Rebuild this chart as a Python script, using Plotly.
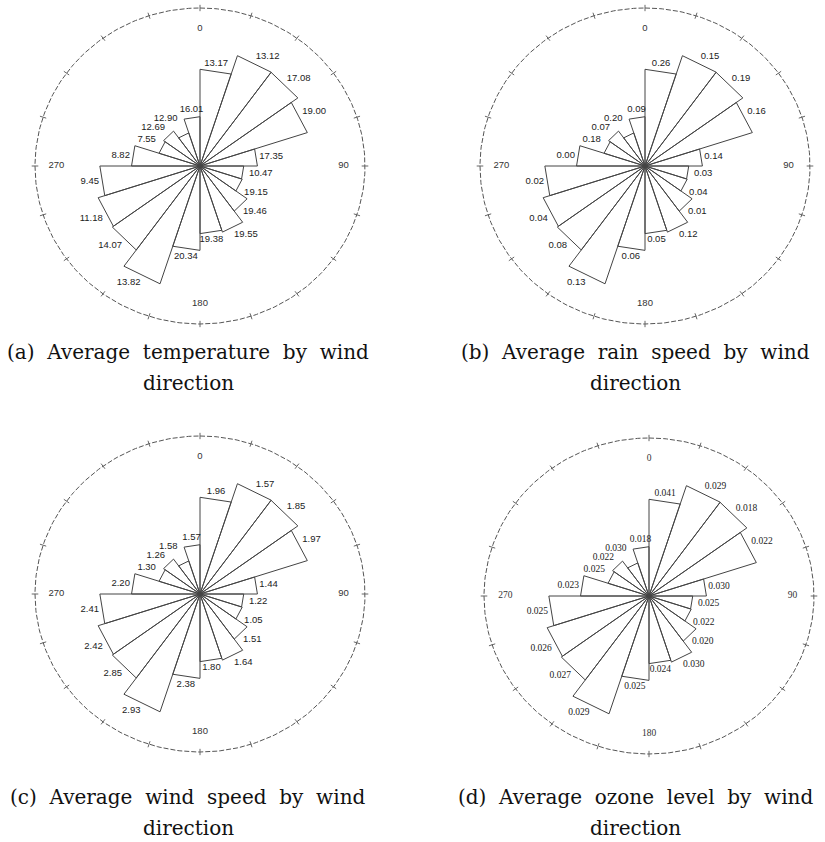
import numpy as np
import plotly.graph_objects as go

# ---------------- data ----------------
# 20 wind-direction bins of 18 degrees, clockwise from north (0 = N, 90 = E)
bin_start_deg = [0, 18, 36, 54, 72, 90, 108, 126, 144, 162,
                 180, 198, 216, 234, 252, 270, 288, 306, 324, 342]
bin_width_deg = 18
# petal length (relative frequency of the bin, outer circle = 100)
petal_length = [61.2, 73.4, 73.3, 68.4, 34.8, 26.5, 26.9, 35.3, 44.0, 42.8,
                53.4, 78.4, 65.7, 64.9, 60.7, 41.5, 26.1, 27.3, 22.0, 31.2]

temperature_labels = ["13.17", "13.12", "17.08", "19.00", "17.35", "10.47", "19.15", "19.46", "19.55", "19.38",
                      "20.34", "13.82", "14.07", "11.18", "9.45", "8.82", "7.55", "12.69", "12.90", "16.01"]
rain_labels = ["0.26", "0.15", "0.19", "0.16", "0.14", "0.03", "0.04", "0.01", "0.12", "0.05",
               "0.06", "0.13", "0.08", "0.04", "0.02", "0.00", "0.18", "0.07", "0.20", "0.09"]
wind_labels = ["1.96", "1.57", "1.85", "1.97", "1.44", "1.22", "1.05", "1.51", "1.64", "1.80",
               "2.38", "2.93", "2.85", "2.42", "2.41", "2.20", "1.30", "1.26", "1.58", "1.57"]
ozone_labels = ["0.041", "0.029", "0.018", "0.022", "0.030", "0.025", "0.022", "0.020", "0.030", "0.024",
                "0.025", "0.029", "0.027", "0.026", "0.025", "0.023", "0.025", "0.022", "0.030", "0.018"]

direction_tick_angles = [0, 90, 180, 270]
direction_tick_text = ["0", "90", "180", "270"]

captions = [
    ("(a) Average temperature by wind", "direction"),
    ("(b) Average rain speed by wind", "direction"),
    ("(c) Average wind speed by wind", "direction"),
    ("(d) Average ozone level by wind", "direction"),
]

# ---------------- layout geometry ----------------
W, H = 825, 842
R_OUT = 100.0          # outer circle radius in data units
SX, SY = 1.65, 1.58    # pixels per data unit (x, y)
centers = [(200, 166), (645, 166), (200, 594), (649, 596)]
caption_pos = [(188, 352, 383), (635, 352, 383), (188, 797, 828), (635, 797, 828)]
label_sets = [temperature_labels, rain_labels, wind_labels, ozone_labels]
label_fonts = ["Liberation Sans", "Liberation Sans", "Liberation Sans", "Liberation Serif"]
MIN_LABEL_R = 30

fig = go.Figure()
layout = dict(width=W, height=H, margin=dict(l=0, r=0, t=0, b=0),
              paper_bgcolor="white", plot_bgcolor="white", showlegend=False)


def pol(r, deg):
    t = np.deg2rad(deg)
    return r * np.sin(t), r * np.cos(t)


for k in range(4):
    cx, cy = centers[k]
    xa = "x" if k == 0 else f"x{k + 1}"
    ya = "y" if k == 0 else f"y{k + 1}"
    left, right = max(0, cx - 195), min(W, cx + 195)
    top, bottom = max(0, cy - 185), min(H, cy + 185)
    axkw = dict(visible=False, showgrid=False, zeroline=False, fixedrange=True)
    layout["xaxis" if k == 0 else f"xaxis{k + 1}"] = dict(
        domain=[left / W, right / W], range=[(left - cx) / SX, (right - cx) / SX],
        anchor=ya, **axkw)
    layout["yaxis" if k == 0 else f"yaxis{k + 1}"] = dict(
        domain=[1 - bottom / H, 1 - top / H], range=[-(bottom - cy) / SY, (cy - top) / SY],
        anchor=xa, **axkw)

    # outer circle
    th = np.linspace(0, 360, 361)
    cxs, cys = pol(R_OUT, th)
    fig.add_trace(go.Scatter(x=cxs, y=cys, mode="lines", xaxis=xa, yaxis=ya,
                             line=dict(color="#555", width=1, dash="5px,2px"),
                             hoverinfo="skip"))
    # small ticks on the circle
    tx, ty = [], []
    for a in bin_start_deg:
        x0, y0 = pol(R_OUT - 2, a)
        x1, y1 = pol(R_OUT + 2, a)
        tx += [x0, x1, None]
        ty += [y0, y1, None]
    fig.add_trace(go.Scatter(x=tx, y=ty, mode="lines", xaxis=xa, yaxis=ya,
                             line=dict(color="#666", width=1), hoverinfo="skip"))
    # direction labels inside the circle
    dx, dy = pol(0.87 * R_OUT, np.array(direction_tick_angles))
    fig.add_trace(go.Scatter(x=dx, y=dy, mode="text", text=direction_tick_text,
                             textposition="middle center", xaxis=xa, yaxis=ya,
                             textfont=dict(family=label_fonts[k], size=9.5, color="#333"),
                             hoverinfo="skip", cliponaxis=False))

    # rose petals: origin -> (r, start) -> (r, end) -> origin
    px, py = [], []
    for a, r in zip(bin_start_deg, petal_length):
        x1, y1 = pol(r, a)
        x2, y2 = pol(r, a + bin_width_deg)
        px += [0, x1, x2, 0, None]
        py += [0, y1, y2, 0, None]
    fig.add_trace(go.Scatter(x=px, y=py, mode="lines", xaxis=xa, yaxis=ya,
                             line=dict(color="#444", width=1), hoverinfo="skip"))

    # value labels just outside the outer edge of each petal
    lx, ly, pos = [], [], []
    for a, r in zip(bin_start_deg, petal_length):
        m = a + bin_width_deg / 2
        rr = max(r * np.cos(np.deg2rad(bin_width_deg / 2)) + 2, MIN_LABEL_R)
        x, y = pol(rr, m)
        lx.append(x)
        ly.append(y)
        s, c = np.sin(np.deg2rad(m)), np.cos(np.deg2rad(m))
        v = "top" if c > 0.38 else ("bottom" if c < -0.38 else "middle")
        h = "right" if s > 0.38 else ("left" if s < -0.38 else "center")
        pos.append(f"{v} {h}")
    fig.add_trace(go.Scatter(x=lx, y=ly, mode="text", text=label_sets[k],
                             textposition=pos, xaxis=xa, yaxis=ya,
                             textfont=dict(family=label_fonts[k], size=9.5, color="#222"),
                             hoverinfo="skip", cliponaxis=False))

annotations = []
for (l1, l2), (x, y1, y2) in zip(captions, caption_pos):
    for txt, yy in ((l1, y1), (l2, y2)):
        annotations.append(dict(text=txt.replace(" ", " \u00a0"), x=x / W, y=1 - yy / H,
                                xref="paper", yref="paper",
                                showarrow=False, xanchor="center", yanchor="middle",
                                font=dict(family="DejaVu Serif", size=20, color="#111")))
layout["annotations"] = annotations
fig.update_layout(**layout)
fig.write_html("out.html", config={"displayModeBar": False},
               post_script="document.body.style.margin='0';document.body.style.padding='0';")
